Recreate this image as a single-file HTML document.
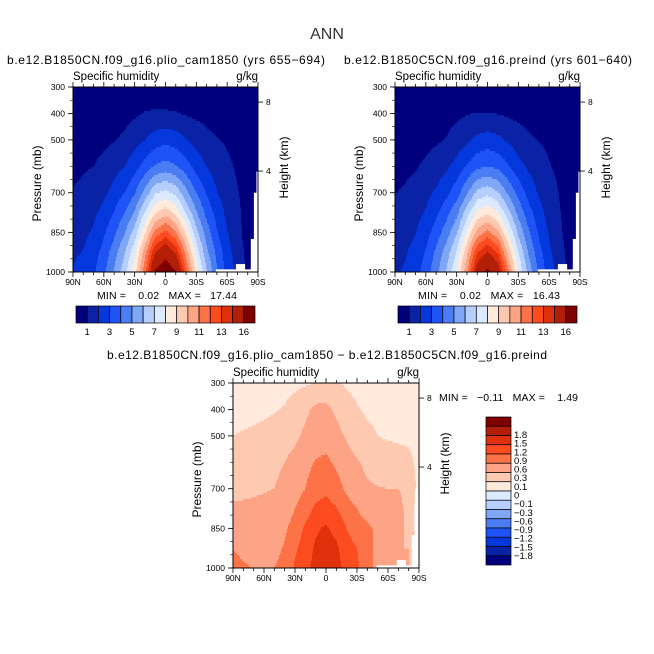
<!DOCTYPE html>
<html><head><meta charset="utf-8"><style>
body{margin:0;background:#fff}
svg{display:block;font-family:"Liberation Sans",sans-serif}
</style></head><body>
<svg id="chart" width="654" height="654" viewBox="0 0 654 654" xmlns="http://www.w3.org/2000/svg">
<rect width="654" height="654" fill="#fff"/>
<text x="327" y="39" font-size="16" text-anchor="middle" fill="#333">ANN</text>
<g id="panels"></g>
</svg>
<script>
// ---- data ----
const lats=[90,80,70,60,50,40,30,20,10,0,-10,-20,-30,-40,-50,-60,-70,-80,-90];
const pLevels=[300,400,500,600,700,775,850,925,1000];
const qLevels=[1,2,3,4,5,6,7,8,9,10,11,12,13,14,16];
const qColors=["#00007f","#0a22a6","#0538dc","#1e54f6","#4a7cf2","#80a6f6","#b6cefb","#dceaff","#ffeadc","#fdc9b0","#fca485","#fb7346","#fb4b1f","#de300a","#b31f06","#800000"];
const dLevels=[-1.8,-1.5,-1.2,-0.9,-0.6,-0.3,-0.1,0,0.1,0.3,0.6,0.9,1.2,1.5,1.8];
const dLabels=["1.8","1.5","1.2","0.9","0.6","0.3","0.1","0","\u22120.1","\u22120.3","\u22120.6","\u22120.9","\u22121.2","\u22121.5","\u22121.8"];
const qLabels=["1","3","5","7","9","11","13","16"];
const qLabelIdx=[0,2,4,6,8,10,12,14];
const xTickLats=[90,60,30,0,-30,-60,-90];
const xTickLabels=["90N","60N","30N","0","30S","60S","90S"];
const pTicks=[300,400,500,700,850,1000];
const hTicks=[8,4];
const hTickP=[357,618];
// surface topography mask (lat ranges southern, surface pressure)
const maskLatFrom=[-49,-68.5,-77,-83,-86,-88.5];
const maskLatTo=[-68.5,-77,-83,-86,-88.5,-90];
const maskSurfP=[990,970,990,875,700,620];
const fieldA=[
[.3,.3,.3,.32,.34,.36,.4,.45,.5,.52,.5,.45,.4,.36,.33,.3,.28,.25,.2],
[.4,.4,.45,.5,.6,.7,.85,1.05,1.1,1.08,1.05,.9,.8,.7,.6,.5,.4,.3,.2],
[.6,.65,.7,.8,.95,1.15,1.6,2.0,2.5,2.7,2.5,2.05,1.6,1.25,1.05,.9,.7,.5,.3],
[.8,.9,1.0,1.25,1.6,2.0,2.6,3.4,4.1,4.4,4.1,3.4,2.6,2.0,1.5,1.15,.9,.6,.35],
[1.05,1.2,1.45,1.8,2.35,3.0,3.9,5.3,6.9,7.3,6.7,5.3,4.0,2.9,2.05,1.45,1.05,.7,.3],
[1.3,1.5,1.8,2.3,3.05,4.0,5.1,7.1,8.9,9.6,8.7,6.9,5.1,3.7,2.6,1.75,1.15,.7,.3],
[1.5,1.75,2.15,2.85,3.75,4.9,6.4,8.8,11.3,12.3,11.1,8.7,6.3,4.5,3.1,2.05,1.25,.65,.3],
[1.85,2.05,2.55,3.35,4.55,5.9,7.7,10.6,13.9,15.2,13.8,10.6,7.6,5.3,3.7,2.4,1.5,.7,.3],
[2.05,2.3,2.85,3.75,5.1,6.6,8.6,11.7,16.2,17.4,16.2,12.2,8.6,6.1,4.1,2.7,1.7,.8,.3]];
const fieldB=[
[.28,.28,.28,.3,.32,.34,.37,.42,.46,.48,.46,.42,.37,.34,.31,.28,.26,.23,.18],
[.37,.37,.42,.47,.56,.65,.78,.96,1.02,1.0,.97,.84,.74,.65,.56,.46,.37,.28,.18],
[.55,.6,.65,.73,.87,1.05,1.45,1.8,2.25,2.45,2.25,1.85,1.45,1.15,.97,.83,.65,.46,.28],
[.73,.82,.92,1.15,1.45,1.8,2.35,3.1,3.75,4.0,3.75,3.1,2.35,1.8,1.38,1.05,.83,.55,.32],
[.97,1.1,1.32,1.65,2.15,2.75,3.55,4.85,6.3,6.7,6.1,4.85,3.65,2.65,1.88,1.33,.97,.64,.28],
[1.2,1.38,1.65,2.1,2.8,3.65,4.7,6.5,8.2,8.8,8.0,6.3,4.7,3.4,2.4,1.6,1.05,.64,.28],
[1.38,1.6,1.97,2.6,3.45,4.5,5.85,8.1,10.4,11.3,10.2,8.0,5.8,4.15,2.85,1.88,1.15,.6,.28],
[1.7,1.9,2.35,3.08,4.2,5.45,7.1,9.8,12.9,14.1,12.8,9.8,7.0,4.9,3.4,2.2,1.4,.65,.28],
[1.9,2.12,2.63,3.45,4.7,6.1,7.95,10.8,15.0,16.43,15.0,11.3,7.95,5.65,3.8,2.5,1.57,.74,.28]];
const fieldD=[
[.05,.05,.05,.05,.05,.06,.07,.08,.1,.13,.11,.08,.06,.05,.05,.05,.05,.05,.05],
[.06,.06,.07,.08,.09,.11,.15,.25,.35,.36,.25,.16,.11,.08,.07,.06,.05,.05,.05],
[.1,.11,.12,.13,.15,.19,.25,.35,.45,.48,.38,.27,.18,.13,.1,.08,.07,.06,.05],
[.2,.2,.21,.23,.27,.3,.38,.5,.62,.66,.55,.4,.32,.25,.21,.19,.17,.15,.04],
[.26,.26,.27,.28,.3,.34,.45,.6,.78,.85,.72,.55,.4,.33,.31,.3,.3,.28,.02],
[.33,.33,.34,.36,.4,.46,.6,.78,.95,1.0,.92,.72,.6,.48,.4,.35,.32,.28,-.05],
[.38,.38,.39,.42,.46,.56,.7,.95,1.15,1.25,1.1,.9,.7,.65,.55,.4,.32,.28,-.05],
[.58,.5,.48,.5,.55,.62,.85,1.05,1.25,1.4,1.25,1.05,.9,.7,.5,.35,.3,.3,0],
[.75,.65,.58,.58,.6,.65,.95,1.1,1.3,1.45,1.3,1.1,.95,.7,.5,.3,.3,.3,0]];

const NS="http://www.w3.org/2000/svg";
const root=document.getElementById('panels');
function el(tag,attrs,parent,txt){const e=document.createElementNS(NS,tag);for(const k in attrs)e.setAttribute(k,attrs[k]);if(txt!==undefined)e.textContent=txt;(parent||root).appendChild(e);return e;}
function sample(field,fi,p){
  let c0=Math.max(0,Math.min(lats.length-2,Math.floor(fi)));let tx=Math.max(0,Math.min(1,fi-c0));
  let r0=0;while(r0<pLevels.length-2&&p>pLevels[r0+1])r0++;
  let ty=Math.max(0,Math.min(1,(p-pLevels[r0])/(pLevels[r0+1]-pLevels[r0])));
  const a=field[r0][c0]*(1-tx)+field[r0][c0+1]*tx,b=field[r0+1][c0]*(1-tx)+field[r0+1][c0+1]*tx;
  return a*(1-ty)+b*ty;
}
function colorIdx(v,levels){let i=0;while(i<levels.length&&v>=levels[i])i++;return i;}
function drawPanel(name,x0,y0,W,H,field,levels,colors){
  const g=el('g',{});
  
  
  const xOf=lat=>x0+(90-lat)/180*W, yOf=p=>y0+(p-300)/700*H;
  const step=2;
  for(let py=0;py<H;py+=step){
    const p=300+(py+step/2)/H*700;
    let runStart=0,cur=-1;
    for(let px=0;px<=W;px++){
      let ci=-2;
      if(px<W){const lat=90-(px+0.5)/W*180;const fi=(90-lat)/10;ci=colorIdx(sample(field,fi,p),levels);}
      if(ci!==cur){
        if(cur>=0){const r=el('rect',{x:x0+runStart,y:y0+py,width:px-runStart+0.4,height:Math.min(step,H-py)+0.4,fill:colors[cur]},g);
          
          }
        cur=ci;runStart=px;
      }
    }
  }
  for(let i=0;i<maskSurfP.length;i++){
    const xa=xOf(maskLatFrom[i]),xb=xOf(maskLatTo[i]);const yt=yOf(maskSurfP[i]);
    const m=el('rect',{x:xa,y:yt,width:xb-xa+0.5,height:y0+H-yt,fill:'#fff'},g);
    
    
  }
  const fr=el('rect',{x:x0,y:y0,width:W,height:H,fill:'none',stroke:'#000','stroke-width':1},g);
  
  
  for(let lat=90;lat>=-90;lat-=10){
    const x=xOf(lat),major=lat%30===0,L=major?5:3;
    el('line',{x1:x,x2:x,y1:y0+H,y2:y0+H+L,stroke:'#000','stroke-width':0.8},g);
    el('line',{x1:x,x2:x,y1:y0,y2:y0-L,stroke:'#000','stroke-width':0.8},g);
  }
  xTickLats.forEach((lat,i)=>{const t=el('text',{x:xOf(lat),y:y0+H+13,'font-size':8.5,'text-anchor':'middle'},g,xTickLabels[i]);
    
    });
  pTicks.forEach(p=>{const y=yOf(p);el('line',{x1:x0-5,x2:x0,y1:y,y2:y,stroke:'#000','stroke-width':0.8},g);
    const t=el('text',{x:x0-8,y:y+3,'font-size':8.5,'text-anchor':'end'},g,String(p));
    
    });
  for(let p=300;p<=1000;p+=50){const y=yOf(p);el('line',{x1:x0-3,x2:x0,y1:y,y2:y,stroke:'#000','stroke-width':0.6},g);}
  hTicks.forEach((h,i)=>{const y=yOf(hTickP[i]);el('line',{x1:x0+W,x2:x0+W+5,y1:y,y2:y,stroke:'#000','stroke-width':0.8},g);
    const t=el('text',{x:x0+W+8,y:y+3,'font-size':8.5},g,String(h));
    
    });
  const a=el('text',{x:0,y:0,'font-size':12,'text-anchor':'middle',transform:`translate(${x0-32},${y0+H/2+4}) rotate(-90)`},g,'Pressure (mb)');
  
  
  const b=el('text',{x:0,y:0,'font-size':12,'text-anchor':'middle',transform:`translate(${x0+W+30},${y0+H/2-12}) rotate(-90)`},g,'Height (km)');
  
  
  const s=el('text',{x:x0,y:y0-7,'font-size':11.5},g,'Specific humidity');
  
  
  const u=el('text',{x:x0+W,y:y0-7,'font-size':11.5,'text-anchor':'end'},g,'g/kg');
  
  
}
function hColorbar(name,x0,y0,W,H){
  const g=el('g',{});
  
  
  const bw=W/qColors.length;
  qColors.forEach((c,i)=>{const r=el('rect',{x:x0+i*bw,y:y0,width:bw,height:H,fill:c,stroke:'#000','stroke-width':0.7},g);
    
    });
  qLabels.forEach((l,i)=>{const t=el('text',{x:x0+(qLabelIdx[i]+1)*bw,y:y0+H+12,'font-size':9.5,'text-anchor':'middle'},g,l);
    
    });
}
function text(name,x,y,s,attrs){const t=el('text',Object.assign({x:x,y:y},attrs||{}),root,s);
  
  return t;}

text('left-title',166,64,'b.e12.B1850CN.f09_g16.plio_cam1850 (yrs 655\u2212694)',{'font-size':12,'text-anchor':'middle',textLength:318});
text('right-title',488,64,'b.e12.B1850C5CN.f09_g16.preind (yrs 601\u2212640)',{'font-size':12,'text-anchor':'middle',textLength:288});
text('diff-title',327,359,'b.e12.B1850CN.f09_g16.plio_cam1850 \u2212 b.e12.B1850C5CN.f09_g16.preind',{'font-size':12,'text-anchor':'middle',textLength:440});

drawPanel('left-panel',73,87,185,185,fieldA,qLevels,qColors);
drawPanel('right-panel',395,87,185,185,fieldB,qLevels,qColors);
drawPanel('diff-panel',233,383,186,185,fieldD,dLevels,qColors);

text('left-minmax',97,299,'MIN =    0.02   MAX =   17.44',{'font-size':10.5,textLength:140});
text('right-minmax',418,299,'MIN =    0.02   MAX =   16.43',{'font-size':10.5,textLength:142});
text('diff-minmax',439,401,'MIN =   \u22120.11   MAX =    1.49',{'font-size':10.5,textLength:139});
document.querySelectorAll('text').forEach(t=>t.setAttribute('style','white-space:pre'));

hColorbar('left-colorbar',76,306,179,17);
hColorbar('right-colorbar',398,306,179,17);

// vertical colorbar for difference
(function(){
  const g=el('g',{});
  
  
  const x0=486,y0=417,W=25,H=148,bh=H/qColors.length;
  qColors.slice().reverse().forEach((c,i)=>{const r=el('rect',{x:x0,y:y0+i*bh,width:W,height:bh,fill:c,stroke:'#000','stroke-width':0.7},g);
    
    });
  dLabels.forEach((l,i)=>{const t=el('text',{x:x0+W+3,y:y0+21+i*8.64,'font-size':9.5},g,l);
    
    });
})();
</script>
</body></html>
